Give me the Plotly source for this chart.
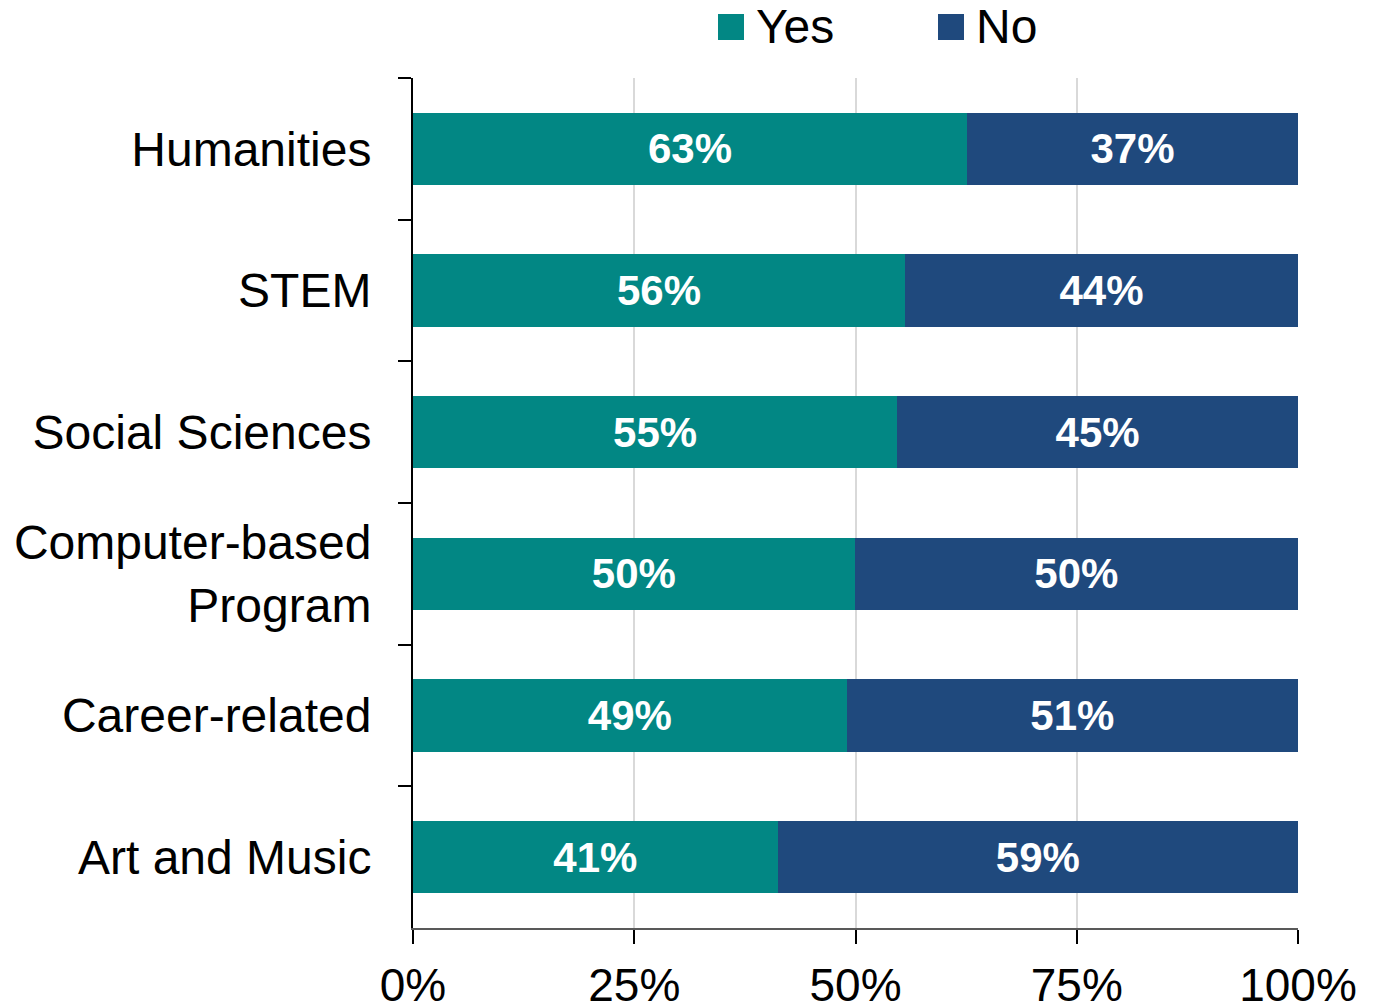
import plotly.graph_objects as go

categories = ["Humanities", "STEM", "Social Sciences", "Computer-based<br>Program",
              "Career-related", "Art and Music"]
yes_values = [62.6, 55.6, 54.7, 49.9, 49.0, 41.2]
no_values = [37.4, 44.4, 45.3, 50.1, 51.0, 58.8]
series_names = ["Yes", "No"]
series_colors = ["#028784", "#1F497D"]
x_ticks = [0, 25, 50, 75, 100]
x_tick_labels = ["0%", "25%", "50%", "75%", "100%"]

FONT = "Liberation Sans, Arial, sans-serif"

fig = go.Figure()
for name, vals, col in zip(series_names, [yes_values, no_values], series_colors):
    fig.add_trace(go.Bar(
        y=categories, x=vals, name=name, orientation="h",
        marker=dict(color=col, line=dict(width=0)),
        text=[f"{round(v)}%" for v in vals],
        textposition="inside", insidetextanchor="middle",
        textfont=dict(family=FONT, size=42, color="white", weight="bold"),
        showlegend=False,
    ))

# manual legend (large squares)
leg_sq = [(0.3446, 0.3740), (0.5932, 0.6226)]
leg_tx = [0.3864, 0.6350]
shapes = []
annots = []
for (x0, x1), tx, name, col in zip(leg_sq, leg_tx, series_names, series_colors):
    shapes.append(dict(type="rect", xref="paper", yref="paper", x0=x0, x1=x1,
                       y0=1.0447, y1=1.0753, fillcolor=col, line=dict(width=0)))
    annots.append(dict(xref="paper", yref="paper", x=tx, y=1.060, text=name,
                       showarrow=False, xanchor="left", yanchor="middle",
                       font=dict(family=FONT, size=48, color="black"), borderpad=0))

fig.update_layout(
    barmode="stack",
    bargap=0.49,
    width=1370, height=998,
    margin=dict(l=405, r=80, t=70, b=78, autoexpand=False),
    paper_bgcolor="white", plot_bgcolor="white",
    font=dict(family=FONT, color="black"),
    shapes=shapes, annotations=annots,
    showlegend=False,
)
fig.update_xaxes(
    range=[0, 100], tickvals=x_ticks, ticktext=x_tick_labels,
    showgrid=True, gridcolor="#D9D9D9", gridwidth=2,
    showline=True, linecolor="#595959", linewidth=2,
    ticks="outside", ticklen=14, tickcolor="black", tickwidth=2,
    tickfont=dict(family=FONT, size=46, color="black"),
    ticklabelstandoff=2, zeroline=False, automargin=False,
)
fig.update_yaxes(
    autorange="reversed",
    showline=True, linecolor="black", linewidth=2,
    ticks="outside", ticklen=13, tickcolor="black", tickwidth=2,
    tickson="boundaries", showgrid=False,
    tickfont=dict(family=FONT, size=48, color="black"),
    ticklabelstandoff=30, automargin=False,
)

fig.write_html("out.html")
